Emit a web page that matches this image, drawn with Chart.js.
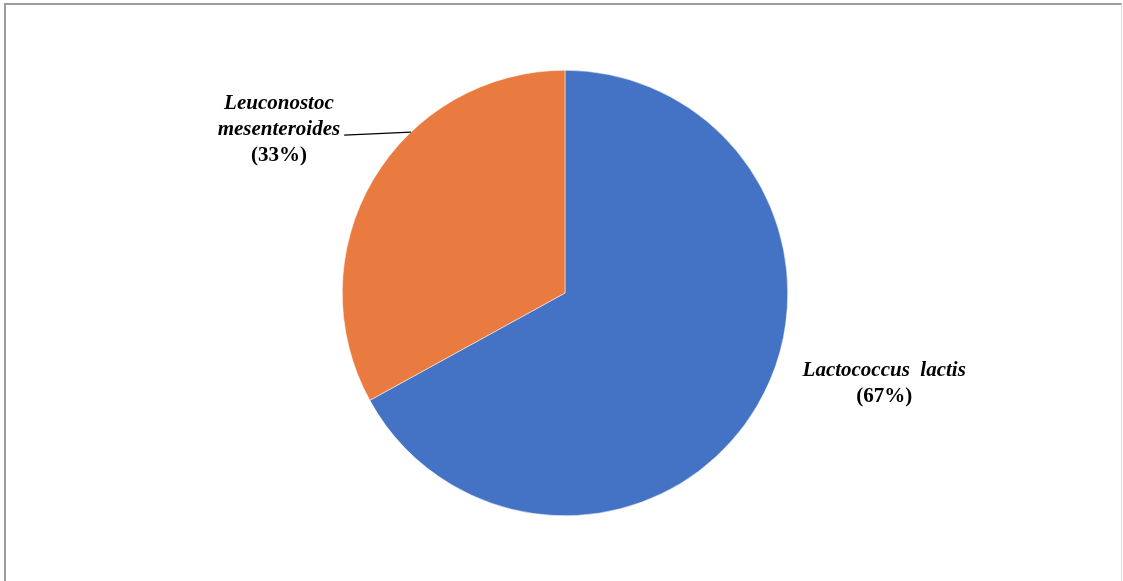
<!DOCTYPE html>
<html>
<head>
<meta charset="utf-8">
<script src="https://cdn.jsdelivr.net/npm/chart.js@4/dist/chart.umd.min.js"></script>
<style>
    html, body { margin: 0; padding: 0; background: #fff; overflow: hidden; }
    #wrap { position: relative; width: 1123px; height: 581px; }
    #frame {
        position: absolute; left: 4px; top: 3px; width: 1115px; height: 600px;
        border-top: 2px solid #9c9c9c; border-left: 2px solid #9c9c9c; border-right: 1px solid #dcdcdc;
    }
    canvas { position: absolute; left: 0; top: 0; }
</style>
</head>
<body>
<div id="wrap">
    <div id="frame"></div>
    <canvas id="pieChart" width="1123" height="581"></canvas>
</div>
<script>
// Species share of isolates
const species = ['Lactococcus  lactis', 'Leuconostoc mesenteroides'];
const shares = [67, 33];
const colors = ['#4472C4', '#E97B41'];

// Label lines per slice (species name may wrap)
const labelLines = [
    ['Lactococcus  lactis'],
    ['Leuconostoc', 'mesenteroides']
];

// Where each label sits: angle offset (deg) from slice middle and distance in radii
const labelPlace = [
    { turn: -14.7, dist: 1.49, leader: false },
    { turn: -0.8, dist: 1.48, leader: true }
];

const nameFont = 'bold italic 21px "Liberation Serif", "Times New Roman", serif';
const pctFont = 'bold 21px "Liberation Serif", "Times New Roman", serif';

const sliceLabels = {
    id: 'sliceLabels',
    afterDatasetsDraw(chart) {
        const ctx = chart.ctx;
        const meta = chart.getDatasetMeta(0);
        ctx.save();
        ctx.fillStyle = '#000';
        ctx.textAlign = 'center';
        ctx.textBaseline = 'middle';
        meta.data.forEach((arc, i) => {
            const p = arc.getProps(['x', 'y', 'startAngle', 'endAngle', 'outerRadius'], true);
            const mid = (p.startAngle + p.endAngle) / 2;
            const a = mid + labelPlace[i].turn * Math.PI / 180;
            const cx = p.x + Math.cos(a) * p.outerRadius * labelPlace[i].dist;
            const cy = p.y + Math.sin(a) * p.outerRadius * labelPlace[i].dist;
            const lines = labelLines[i].concat(['(' + shares[i] + '%)']);
            const lh = 26;
            const top = cy - (lines.length - 1) * lh / 2;
            lines.forEach((t, k) => {
                ctx.font = k === lines.length - 1 ? pctFont : nameFont;
                ctx.fillText(t, cx, top + k * lh);
            });
            if (labelPlace[i].leader) {
                // leader from end of the longest name line across to the slice edge
                const k = 1;
                ctx.font = nameFont;
                const w = ctx.measureText(lines[k]).width;
                const sx = cx + w / 2 + 4;
                const sy = top + k * lh + 6;
                const ey = sy - 3;
                const ex = p.x - Math.sqrt(p.outerRadius * p.outerRadius - (ey - p.y) * (ey - p.y));
                ctx.strokeStyle = '#000';
                ctx.lineWidth = 1.2;
                ctx.beginPath();
                ctx.moveTo(sx, sy);
                ctx.lineTo(ex, ey);
                ctx.stroke();
            }
        });
        ctx.restore();
    }
};

new Chart(document.getElementById('pieChart').getContext('2d'), {
    type: 'pie',
    data: {
        labels: species,
        datasets: [{
            data: shares,
            backgroundColor: colors,
            borderColor: '#ffffff',
            borderWidth: 0.5
        }]
    },
    options: {
        responsive: false,
        animation: false,
        layout: { padding: { top: 70, bottom: 65, left: 7, right: 0 } },
        plugins: {
            legend: { display: false },
            tooltip: { enabled: false }
        }
    },
    plugins: [sliceLabels]
});
</script>
</body>
</html>
